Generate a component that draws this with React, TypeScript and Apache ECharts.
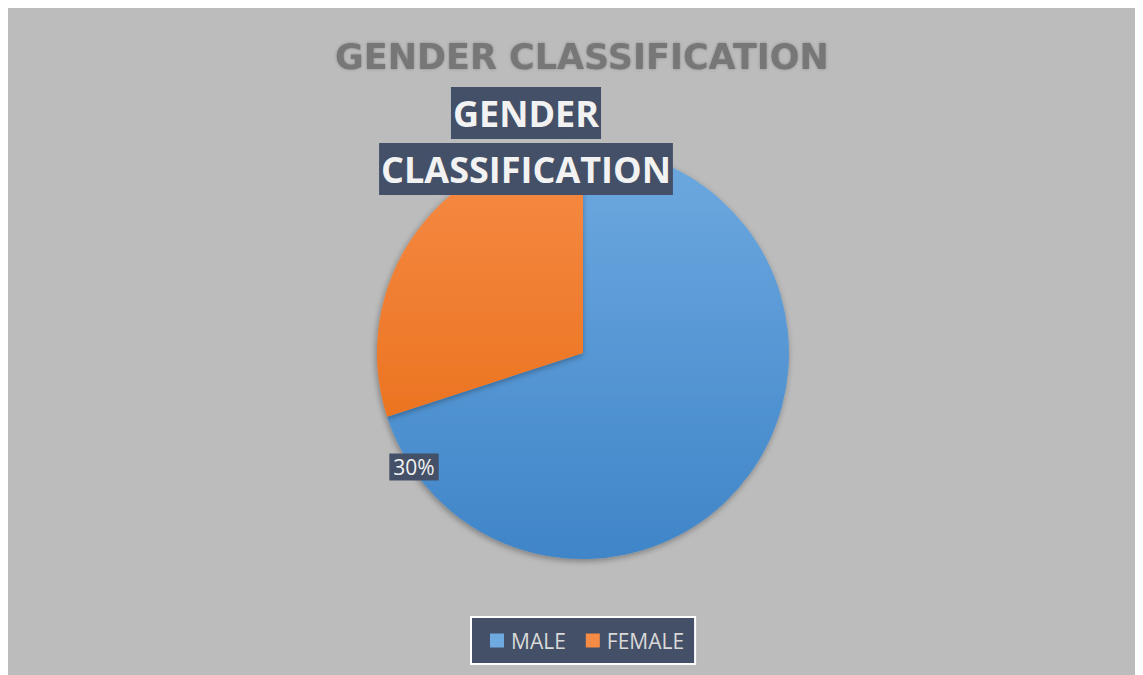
import React, { useEffect, useRef } from "react";
import * as echarts from "echarts";

const chartTitle = "GENDER CLASSIFICATION";
const categories = ["MALE", "FEMALE"];
const values = [70, 30];
const seriesName = "GENDER CLASSIFICATION";

export default function App() {
  const ref = useRef<HTMLDivElement>(null);
  useEffect(() => {
    if (!ref.current) return;
    const chart = echarts.init(ref.current, null, { renderer: "svg" });
    const cx = 575, cy = 345, r = 206;
    const grad = (top: string, bottom: string) => ({
      type: "linear", x: 0, y: cy - r, x2: 0, y2: cy + r, global: true,
      colorStops: [{ offset: 0, color: top }, { offset: 1, color: bottom }],
    });
    const colors = [grad("#6ea9e0", "#3f85c8"), grad("#f68b45", "#e6680f")];
    const boxStyle = {
      fontFamily: "Open Sans",
      fontWeight: "bold",
      fontSize: 36,
      color: "#f2f2f2",
      backgroundColor: "#435067",
      lineHeight: 56,
      padding: [8, 2, 8, 2],
    };
    chart.setOption({
      animation: false,
      backgroundColor: "#bcbcbc",
      title: {
        text: chartTitle,
        left: 322,
        top: 26,
        textStyle: {
          fontFamily: "DejaVu Sans",
          fontWeight: "bold",
          fontSize: 35,
          color: "#777777",
          textShadowColor: "rgba(90,90,90,0.5)",
          textShadowBlur: 3,
        },
      },
      legend: {
        data: categories,
        bottom: 11,
        left: 463,
        icon: "rect",
        itemWidth: 14,
        itemHeight: 14,
        itemGap: 20,
        backgroundColor: "#435067",
        borderColor: "#ffffff",
        borderWidth: 2,
        borderRadius: 0,
        padding: [13, 11, 13, 19],
        textStyle: {
          fontFamily: "Open Sans",
          fontSize: 21,
          color: "#d9d9d9",
          padding: [16, 0, 0, 2],
        },
      },
      series: [
        {
          name: seriesName,
          type: "pie",
          center: [cx, cy],
          radius: r,
          startAngle: 90,
          clockwise: true,
          data: categories.map((c, i) => ({
            name: c,
            value: values[i],
            itemStyle: {
              color: colors[i],
              shadowColor: "rgba(0,0,0,0.35)",
              shadowBlur: 6,
              shadowOffsetX: -1,
              shadowOffsetY: 2,
            },
            label:
              i === 0
                ? {
                    formatter: () => "{a|GENDER}\n{b|CLASSIFICATION}",
                    rich: { a: boxStyle, b: boxStyle },
                  }
                : {
                    formatter: "{d}%",
                    fontFamily: "Open Sans",
                    fontSize: 21,
                    color: "#f2f2f2",
                    backgroundColor: "#435067",
                    padding: [3, 4],
                  },
          })),
          label: { show: true },
          labelLine: { show: false },
          labelLayout: (p: any) =>
            p.dataIndex === 0
              ? { x: 518, y: 133, align: "center", verticalAlign: "middle" }
              : { x: 406, y: 459, align: "center", verticalAlign: "middle" },
          emphasis: { disabled: true },
        },
      ],
    });
    return () => chart.dispose();
  }, []);
  return <div ref={ref} style={{ width: 1135, height: 667 }} />;
}
